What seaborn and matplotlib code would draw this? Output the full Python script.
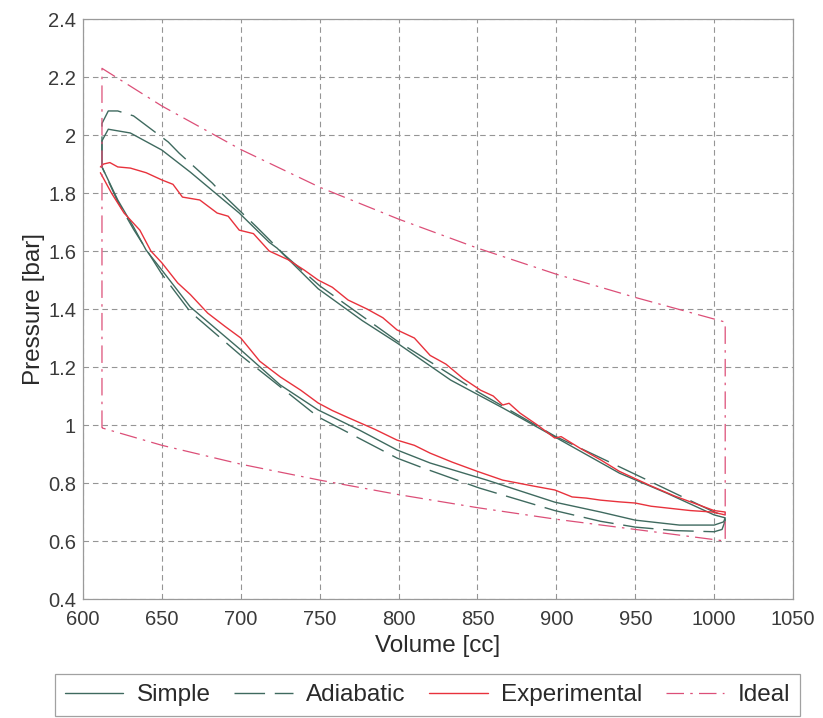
import numpy as np
import pandas as pd
import matplotlib
matplotlib.use("Agg")
import matplotlib.pyplot as plt
import seaborn as sns

# ---------- Data (V in cc, p in bar) ----------
# Simple model loop: up the left edge, along the expansion branch, back along compression
simple_v = [612, 612, 616, 630, 650, 668, 699, 718, 723, 749, 777, 799, 833, 866, 899,
            940, 970, 1000, 1007, 1006, 1000, 978, 950, 928, 899, 856, 820, 799, 775,
            749, 725, 700, 668, 650, 640, 632, 622, 612]
simple_p = [1.89, 1.98, 2.02, 2.007, 1.948, 1.872, 1.731, 1.63, 1.61, 1.47, 1.36, 1.283, 1.155, 1.059, 0.959,
            0.834, 0.765, 0.69, 0.68, 0.666, 0.655, 0.655, 0.672, 0.70, 0.734, 0.81, 0.869, 0.914, 0.983,
            1.052, 1.138, 1.259, 1.407, 1.534, 1.603, 1.683, 1.776, 1.89]

# Adiabatic model loop
adiabatic_v = [612, 612, 616, 622, 632, 654, 661, 682, 689, 710, 717, 727, 750, 799, 850,
               899, 950, 1000, 1007, 1007, 1005, 1000, 975, 950, 928, 899, 851, 814, 799,
               749, 700, 668, 650, 632, 622, 612]
adiabatic_p = [1.89, 2.04, 2.083, 2.083, 2.066, 1.976, 1.937, 1.834, 1.793, 1.683, 1.645, 1.59, 1.48, 1.29, 1.115,
               0.962, 0.83, 0.70, 0.685, 0.67, 0.64, 0.632, 0.636, 0.648, 0.668, 0.705, 0.783, 0.855, 0.886,
               1.028, 1.24, 1.39, 1.52, 1.675, 1.77, 1.89]

# Experimental (measured) loop
exp_v = [611, 613, 617, 622, 630, 640, 650, 657, 663, 674, 685, 692, 699, 708, 718, 730,
         740, 749, 758, 768, 780, 790, 799, 810, 820, 830, 841, 852, 860, 866, 870, 877,
         888, 899, 903, 915, 928, 940, 950, 960, 975, 990, 1000, 1007,
         1007, 999, 985, 970, 960, 950, 940, 928, 919, 910, 899, 885, 866, 850, 834,
         820, 810, 799, 785, 767, 758, 749, 738, 725, 712, 700, 690, 679, 668, 660,
         650, 643, 636, 626, 618, 611]
exp_p = [1.89, 1.90, 1.905, 1.89, 1.886, 1.87, 1.845, 1.83, 1.786, 1.776, 1.731, 1.72, 1.672, 1.66, 1.60, 1.57,
         1.535, 1.50, 1.475, 1.431, 1.40, 1.37, 1.328, 1.30, 1.24, 1.21, 1.16, 1.12, 1.10, 1.069, 1.075, 1.041,
         1.00, 0.955, 0.96, 0.92, 0.88, 0.84, 0.815, 0.79, 0.755, 0.725, 0.705, 0.70,
         0.69, 0.70, 0.705, 0.714, 0.72, 0.731, 0.735, 0.741, 0.748, 0.752, 0.776, 0.79, 0.81, 0.84, 0.872,
         0.903, 0.93, 0.948, 0.985, 1.028, 1.05, 1.076, 1.12, 1.166, 1.22, 1.30, 1.34, 1.386, 1.45, 1.49,
         1.559, 1.60, 1.672, 1.731, 1.80, 1.87]

# Ideal (isothermal) cycle
ideal_v = [612, 612, 650, 700, 750, 800, 850, 900, 950, 1007,
           1007, 950, 900, 850, 800, 750, 700, 650, 612]
ideal_p = [0.99, 2.23, 2.10, 1.95, 1.82, 1.71, 1.61, 1.52, 1.44, 1.355,
           0.60, 0.64, 0.675, 0.715, 0.76, 0.81, 0.865, 0.93, 0.99]

x_ticks = [600, 650, 700, 750, 800, 850, 900, 950, 1000, 1050]
y_ticks = [0.4, 0.6, 0.8, 1.0, 1.2, 1.4, 1.6, 1.8, 2.0, 2.2, 2.4]

# ---------- Style ----------
sns.set_theme(style="white")
plt.rcParams['font.family'] = ['Liberation Sans', 'DejaVu Sans']

fig = plt.figure(figsize=(8.23, 7.18), dpi=100)
ax = fig.add_axes([0.1009, 0.1657, 0.8627, 0.8078])

model_col = "#3f6a5f"
series = [
    ("Simple", simple_v, simple_p, model_col, "-", 1.0),
    ("Adiabatic", adiabatic_v, adiabatic_p, model_col, (0, (22, 7)), 1.0),
    ("Experimental", exp_v, exp_p, "#e8323c", "-", 1.0),
    ("Ideal", ideal_v, ideal_p, "#dc4f78", (0, (14, 5, 2, 5)), 0.9),
]
for name, v, p, col, ls, lw in series:
    df = pd.DataFrame({"Volume": v, "Pressure": p})
    sns.lineplot(data=df, x="Volume", y="Pressure", sort=False, estimator=None,
                 color=col, linestyle=ls, linewidth=lw, label=name, ax=ax, legend=False)

ax.set_xlim(600, 1050)
ax.set_ylim(0.4, 2.4)
ax.set_xticks(x_ticks)
ax.set_yticks(y_ticks)
ax.set_yticklabels([f"{t:g}" for t in y_ticks])
ax.grid(True, linestyle=(0, (5, 3.5)), color="#959595", linewidth=0.8)
for s in ax.spines.values():
    s.set_color("#9a9a9a")
    s.set_linewidth(0.9)
ax.tick_params(axis="both", direction="in", length=0, labelsize=14.5,
               labelcolor="#3a3a3a")
ax.tick_params(axis="x", pad=8)
ax.tick_params(axis="y", pad=5)
ax.set_xlabel("Volume [cc]", fontsize=17.5, color="#2a2a2a", labelpad=4)
ax.set_ylabel("Pressure [bar]", fontsize=17.5, color="#2a2a2a", labelpad=2)

handles, labels = ax.get_legend_handles_labels()
leg = fig.legend(handles, labels, loc="lower left", ncol=4, mode="expand",
                 bbox_to_anchor=(0.067, 0.003, 0.905, 0.056), borderaxespad=0,
                 fontsize=17.5, handlelength=2.4, handletextpad=0.55,
                 columnspacing=0.6, borderpad=0.4,
                 frameon=True, fancybox=False, edgecolor="#8a8a8a")
leg.get_frame().set_linewidth(0.9)
for t in leg.get_texts():
    t.set_color("#2a2a2a")

fig.savefig("out.png", dpi=100)
